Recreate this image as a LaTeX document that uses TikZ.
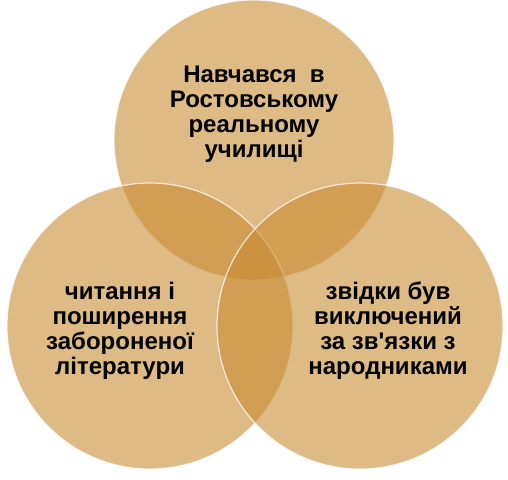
\documentclass[tikz,border=0pt]{standalone}
\usepackage{fontspec}
\setmainfont{Liberation Sans}
\definecolor{ochre}{RGB}{200,140,50}

\begin{document}
\begin{tikzpicture}[x=1pt, y=-1pt,
  ring/.style={fill=ochre, fill opacity=0.6, draw=white, draw opacity=0.75,
               line width=1.2pt},
  blurb/.style={font=\bfseries\fontsize{24}{25}\selectfont, align=center,
                text=black, inner sep=0pt}]

  \useasboundingbox (0,0) rectangle (508,479);

  %% Three circles
  \filldraw[ring] (254,140) circle (140pt);
  \filldraw[ring] (150,326) circle (143pt);
  \filldraw[ring] (360,326) circle (143pt);

  %% Texts
  \node[blurb] (school) at (254,114)
    {Навчався \ в\\Ростовському\\реальному\\училищі};
  \node[blurb] (books) at (120,331)
    {читання і\\поширення\\забороненої\\літератури};
  \node[blurb] (expel) at (388,331)
    {звідки був\\виключений\\за зв\textquotesingle язки з\\народниками};

\end{tikzpicture}
\end{document}
